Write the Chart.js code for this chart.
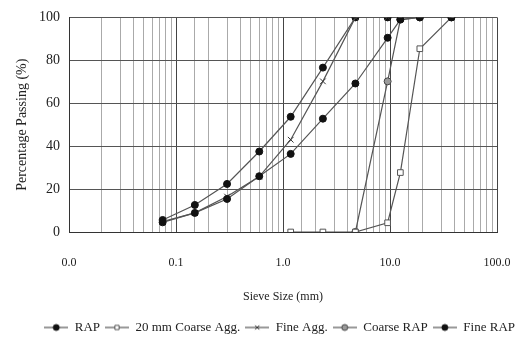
<!DOCTYPE html>
<html><head><meta charset="utf-8">
<script src="https://cdn.jsdelivr.net/npm/chart.js@4.4.1/dist/chart.umd.min.js"></script>
<style>html,body{margin:0;background:#fff}#wrap{width:520px;height:344px}</style>
</head><body><div id="wrap"><canvas id="c"></canvas></div>
<script>
// sieve sizes (mm) and percentage passing
const sieveSizes = [0.075, 0.15, 0.3, 0.6, 1.18, 2.36, 4.75, 9.5, 12.5, 19, 37.5];
const rap        = [4.5, 8.9, 15.4, 26.0, 36.4, 52.8, 69.2, 90.5, 99.0, 100, 100];
const coarseAgg  = [null, null, null, null, 0, 0, 0, 4.3, 27.7, 85.4, 100];
const fineAgg    = [4.8, 8.9, 16.5, 25.8, 43.0, 70.2, 100, 100, null, null, null];
const coarseRap  = [null, null, null, null, null, null, 0, 70.2, 99.0, 100, 100];
const fineRap    = [5.6, 12.6, 22.4, 37.5, 53.7, 76.6, 100, 100, null, null, null];
const seriesNames = ['RAP', '20 mm Coarse Agg.', 'Fine Agg.', 'Coarse RAP', 'Fine RAP'];
const yTicks = [0, 20, 40, 60, 80, 100];

const pts = arr => sieveSizes.map((x, i) => ({x, y: arr[i]})).filter(p => p.y !== null);
const lineCol = '#555';

const styles = [
  {pointStyle: 'circle', bg: '#111', border: '#111', r: 3.5},
  {pointStyle: 'rect', bg: '#fff', border: '#555', r: 4},
  {pointStyle: 'crossRot', bg: '#333', border: '#333', r: 4},
  {pointStyle: 'circle', bg: '#9a9a9a', border: '#444', r: 3.5},
  {pointStyle: 'circle', bg: '#111', border: '#111', r: 3.5}
];
const values = [rap, coarseAgg, fineAgg, coarseRap, fineRap];

// small legend samples: line with marker in the middle
function legendIcon(s) {
  const c = document.createElement('canvas');
  c.width = 24; c.height = 10;
  const g = c.getContext('2d');
  g.strokeStyle = lineCol; g.lineWidth = 1.2;
  g.beginPath(); g.moveTo(0, 5); g.lineTo(24, 5); g.stroke();
  g.fillStyle = s.bg; g.strokeStyle = s.border; g.lineWidth = 1;
  Chart.helpers.drawPoint(g, {pointStyle: s.pointStyle, radius: 3, borderWidth: 1}, 12, 5);
  return c;
}

Chart.defaults.font.family = '"Liberation Serif", "DejaVu Serif", serif';
Chart.defaults.color = '#222';

const isDecade = v => Math.abs(Math.log10(v) - Math.round(Math.log10(v))) < 1e-6;

new Chart(document.getElementById('c'), {
  type: 'line',
  data: {
    datasets: values.map((arr, i) => ({
      label: seriesNames[i],
      data: pts(arr),
      borderColor: lineCol,
      borderWidth: 1.2,
      pointStyle: styles[i].pointStyle,
      pointRadius: styles[i].r,
      pointBackgroundColor: styles[i].bg,
      pointBorderColor: styles[i].border,
      pointBorderWidth: 1,
      tension: 0,
      fill: false
    }))
  },
  options: {
    responsive: true,
    maintainAspectRatio: false,
    animation: false,
    layout: {padding: {left: 10, right: 0, top: 12, bottom: 0}},
    plugins: {
      legend: {
        position: 'bottom',
        align: 'end',
        labels: {
          usePointStyle: true,
          pointStyleWidth: 24,
          padding: 5,
          font: {size: 13},
          generateLabels: chart => chart.data.datasets.map((d, i) => ({
            text: d.label,
            pointStyle: legendIcon(styles[i]),
            fillStyle: styles[i].bg,
            strokeStyle: styles[i].border,
            lineWidth: 0,
            datasetIndex: i,
            fontColor: '#222'
          }))
        }
      },
      tooltip: {enabled: false}
    },
    scales: {
      x: {
        type: 'logarithmic',
        min: 0.01,
        max: 100,
        title: {display: true, text: 'Sieve Size (mm)', font: {size: 12}, padding: {top: 0, bottom: 12}},
        ticks: {
          autoSkip: false,
          maxRotation: 0,
          padding: 24,
          font: {size: 12},
          callback: v => isDecade(v) ? Number(v).toFixed(1) : ''
        },
        afterFit: s => { s.height = 84; s.paddingRight = 23; },
        grid: {
          drawTicks: false,
          color: c => (c.tick && isDecade(c.tick.value)) ? '#444' : '#aaa',
          lineWidth: 1
        },
        border: {color: '#333'}
      },
      y: {
        min: 0,
        max: 100,
        afterBuildTicks: s => { s.ticks = yTicks.map(v => ({value: v})); },
        title: {display: true, text: 'Percentage Passing (%)', font: {size: 14}, padding: {top: 4, bottom: 0}},
        ticks: {padding: 9, font: {size: 14}},
        afterFit: s => { s.width = 59; },
        grid: {drawTicks: false, color: '#555', lineWidth: 1},
        border: {color: '#333'}
      }
    }
  }
});
</script>
</body></html>
